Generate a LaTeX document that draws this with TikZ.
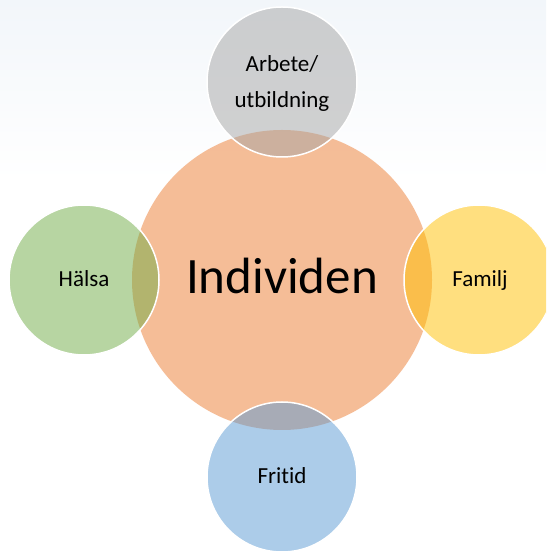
\documentclass[tikz,border=0pt]{standalone}
\usepackage{fontspec}
\setmainfont{Carlito}[Ligatures=NoCommon]
\definecolor{cOrange}{HTML}{ED7D31}
\definecolor{cGrey}{HTML}{A5A5A5}
\definecolor{cGreen}{HTML}{70AD47}
\definecolor{cYellow}{HTML}{FFC000}
\definecolor{cBlue}{HTML}{5B9BD5}
\definecolor{bgTop}{HTML}{F2F6FA}
\begin{document}
\begin{tikzpicture}[x=1pt,y=1pt,
  hub/.style={circle,minimum size=300pt,inner sep=0pt,fill=cOrange,fill opacity=0.5},
  sat/.style={circle,minimum size=150pt,inner sep=0pt,fill=#1,fill opacity=0.5,draw=white,draw opacity=1,line width=1.5pt},
  lbl/.style={anchor=base,inner sep=0pt,text=black,font=\fontsize{23}{36}\selectfont,align=center},
  biglbl/.style={anchor=base,inner sep=0pt,text=black,font=\fontsize{51}{60}\selectfont}]
\useasboundingbox (0,0) rectangle (546,551);
\clip (0,0) rectangle (546,551);
\fill[white] (0,0) rectangle (546,551);
\shade[top color=bgTop,bottom color=white] (0,371) rectangle (546,551);
\node[hub] (ind) at (282,271) {};
\node[sat=cGrey] (arb) at (282,469) {};
\node[sat=cGreen] (hal) at (84,271) {};
\node[sat=cYellow] (fam) at (479,271) {};
\node[sat=cBlue] (fri) at (282,74) {};
\node[biglbl] (tind) at (282,257) {Individen};
\node[lbl] (tarb) at (282,443) {Arbete/\\utbildning};
\node[lbl] (thal) at (84,264) {Hälsa};
\node[lbl] (tfam) at (480,264) {Familj};
\node[lbl] (tfri) at (282,67) {Fritid};
\end{tikzpicture}
\end{document}
